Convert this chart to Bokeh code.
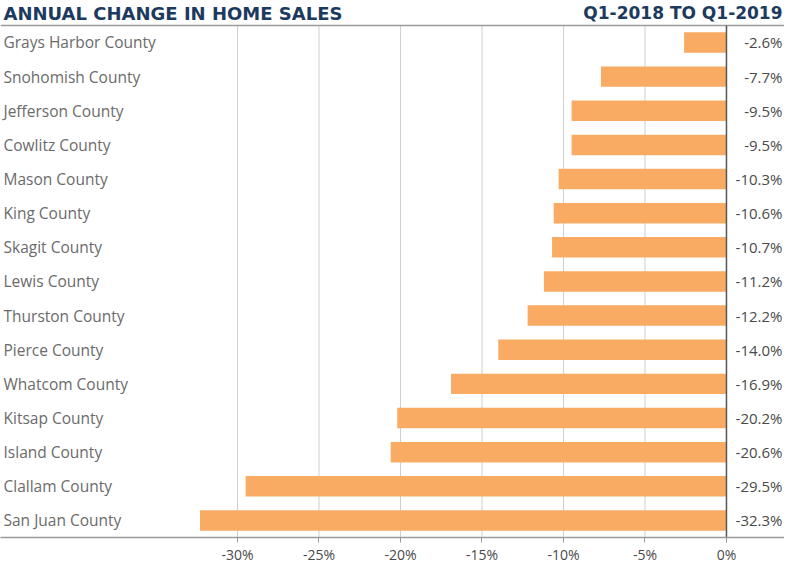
from bokeh.plotting import figure
from bokeh.models import ColumnDataSource, Range1d, FixedTicker, PrintfTickFormatter
from bokeh.core.properties import value
from bokeh.embed import file_html
from bokeh.resources import INLINE

title_left = "ANNUAL CHANGE IN HOME SALES"
title_right = "Q1-2018 TO Q1-2019"
counties = ["Grays Harbor County", "Snohomish County", "Jefferson County", "Cowlitz County",
            "Mason County", "King County", "Skagit County", "Lewis County", "Thurston County",
            "Pierce County", "Whatcom County", "Kitsap County", "Island County",
            "Clallam County", "San Juan County"]
changes = [-2.6, -7.7, -9.5, -9.5, -10.3, -10.6, -10.7, -11.2, -12.2, -14.0, -16.9,
           -20.2, -20.6, -29.5, -32.3]
tick_values = [-30, -25, -20, -15, -10, -5, 0]

FONT = "Open Sans"
TITLE_FONT = "DejaVu Sans"
NAVY = "#1c3a5e"
CAT_TXT = "#6b6b6b"
VAL_TXT = "#4a4a4a"
BAR = "#f9ab64"

n = len(counties)
rows = [i + 0.5 for i in range(n)]
labels = [f"{v:.1f}%" for v in changes]
src = ColumnDataSource(dict(y=rows, county=counties, change=changes, label=labels))

x_start, x_end = -44.54, 3.56
p = figure(width=784, height=566, output_backend="svg", toolbar_location=None,
           x_range=Range1d(x_start, x_end), y_range=Range1d(n, -0.73),
           min_border_left=0, min_border_right=0, min_border_top=0, min_border_bottom=28)
p.outline_line_color = None
p.background_fill_color = "white"
p.border_fill_color = "white"
p.grid.visible = False
p.yaxis.visible = False

ax = p.xaxis[0]
ax.ticker = FixedTicker(ticks=tick_values)
ax.formatter = PrintfTickFormatter(format="%d%%")
ax.axis_line_color = "#9a9a9a"
ax.axis_line_width = 1.5
ax.major_tick_line_color = "#9a9a9a"
ax.major_tick_out = 5
ax.major_tick_in = 0
ax.minor_tick_line_color = None
ax.major_label_text_font = FONT
ax.major_label_text_font_size = "14px"
ax.major_label_text_color = VAL_TXT
ax.major_label_standoff = 2

# vertical grid lines (inside the chart area only)
grid_x = [t for t in tick_values if t != 0]
p.segment(x0=grid_x, x1=grid_x, y0=[0] * len(grid_x), y1=[n] * len(grid_x),
          line_color="#cfcfcf", line_width=1)
# top rule
p.segment(x0=[x_start], x1=[x_end], y0=[0], y1=[0], line_color="#9a9a9a", line_width=1.5)

p.hbar(y="y", left="change", right=0, height=0.6, fill_color=BAR, line_color=None, source=src)

# zero line
p.segment(x0=[0], x1=[0], y0=[0], y1=[n], line_color="#555555", line_width=1.5)

p.text(x=x_start, y="y", text="county", source=src, x_offset=3, text_font=value(FONT),
       text_font_size="15.5px", text_color=CAT_TXT, text_baseline="middle", text_align="left")
p.text(x=x_end, y="y", text="label", source=src, x_offset=-2, text_font=value(FONT),
       text_font_size="15px", text_color=VAL_TXT, text_baseline="middle", text_align="right")

p.text(x=[x_start], y=[0], text=[title_left], x_offset=3, y_offset=-12, text_font=value(TITLE_FONT),
       text_font_style="bold", text_font_size="18px", text_color=NAVY,
       text_baseline="alphabetic", text_align="left")
p.text(x=[x_end], y=[0], text=[title_right], x_offset=-2, y_offset=-12, text_font=value(TITLE_FONT),
       text_font_style="bold", text_font_size="17px", text_color=NAVY,
       text_baseline="alphabetic", text_align="right")

open("out.html", "w").write(file_html(p, INLINE))
